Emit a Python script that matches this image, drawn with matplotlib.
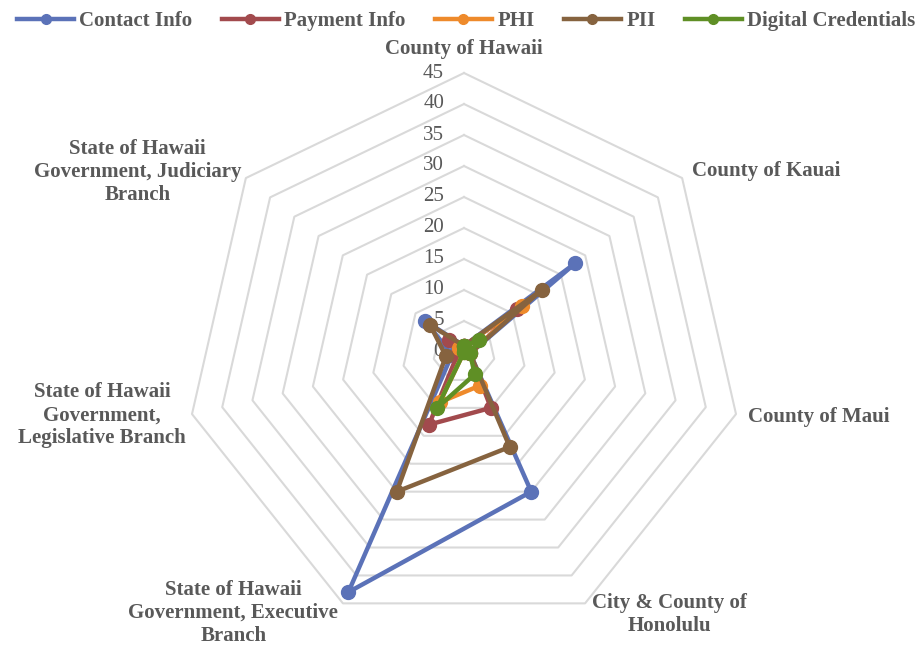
import numpy as np
import matplotlib
matplotlib.use("Agg")
import matplotlib.pyplot as plt
from matplotlib.lines import Line2D
from matplotlib.transforms import offset_copy

categories = [
    "County of Hawaii",
    "County of Kauai",
    "County of Maui",
    "City & County of\nHonolulu",
    "State of Hawaii\nGovernment, Executive\nBranch",
    "State of Hawaii\nGovernment,\nLegislative Branch",
    "State of Hawaii\nGovernment, Judiciary\nBranch",
]
series_names = ["Contact Info", "Payment Info", "PHI", "PII", "Digital Credentials"]
contact_info = [1, 23, 1, 25, 43, 2, 8]
payment_info = [1, 11, 1, 10, 13, 1, 3]
phi = [1, 12, 1, 6, 9, 0, 1]
pii = [1, 16, 1, 17, 25, 3, 7]
digital_credentials = [1, 3, 1, 4, 10, 0, 0]
tick_values = [0, 5, 10, 15, 20, 25, 30, 35, 40, 45]

colors = ["#5b72b8", "#a24a4d", "#ee8a2b", "#86633f", "#5f8f25"]
series = [contact_info, payment_info, phi, pii, digital_credentials]

W, H = 923, 649
fig = plt.figure(figsize=(W / 100, H / 100), dpi=100)
cx, cy, R = 464, 352, 279
ax = fig.add_axes([(cx - R) / W, (H - cy - R) / H, 2 * R / W, 2 * R / H], projection="polar")
ax.set_theta_offset(np.pi / 2)
ax.set_theta_direction(-1)
ax.set_ylim(0, 45)
ax.grid(False)
ax.spines["polar"].set_visible(False)
ax.set_xticks([])
ax.set_yticks([])
ax.patch.set_alpha(0)

n = len(categories)
angles = np.arange(n) * 2 * np.pi / n
closed = np.concatenate([angles, angles[:1]])

# polygon gridlines
for t in tick_values[1:]:
    ax.plot(closed, [t] * (n + 1), color="#d9d9d9", lw=1.5, zorder=1, clip_on=False)

# tick labels
trans = offset_copy(ax.transData, fig=fig, x=-20, y=0, units="dots")
for t in tick_values:
    ax.text(0, t, str(t), transform=trans, ha="right", va="center",
            fontsize=15, family="Liberation Serif", color="#595959", zorder=2)

# data
for name, vals, c in zip(series_names, series, colors):
    v = list(vals) + [vals[0]]
    ax.plot(closed, v, color=c, lw=3.2, marker="o", markersize=10,
            solid_joinstyle="round", label=name, zorder=3, clip_on=False)

# category labels
label_props = dict(fontsize=15, family="Liberation Serif", fontweight="bold",
                   color="#595959", multialignment="center", linespacing=1.2)
placements = [
    (48.8, "center", "center"),
    (46.0, "left", "center"),
    (46.0, "left", "center"),
    (46.0, "left", "center"),
    (46.0, "right", "center"),
    (46.0, "right", "center"),
    (46.0, "right", "center"),
]
offsets = [(0, 0), (5, 3), (6, -2), (4, -6), (-2, -4), (0, 0), (0, 2)]
for a, lab, (r, ha, va), (ox, oy) in zip(angles, categories, placements, offsets):
    tr = offset_copy(ax.transData, fig=fig, x=ox, y=oy, units="dots")
    ax.text(a, r, lab, transform=tr, ha=ha, va=va, clip_on=False, **label_props)

handles = [Line2D([], [], color=c, lw=3.2, marker="o", markersize=7) for c in colors]
leg = fig.legend(handles, series_names, loc="upper center", bbox_to_anchor=(0.505, 1.012),
                 ncol=5, frameon=False, handlelength=2.75, handletextpad=0.25,
                 columnspacing=1.4,
                 prop={"family": "Liberation Serif", "weight": "bold", "size": 15})
for t in leg.get_texts():
    t.set_color("#595959")

fig.savefig("out.png", dpi=100)
